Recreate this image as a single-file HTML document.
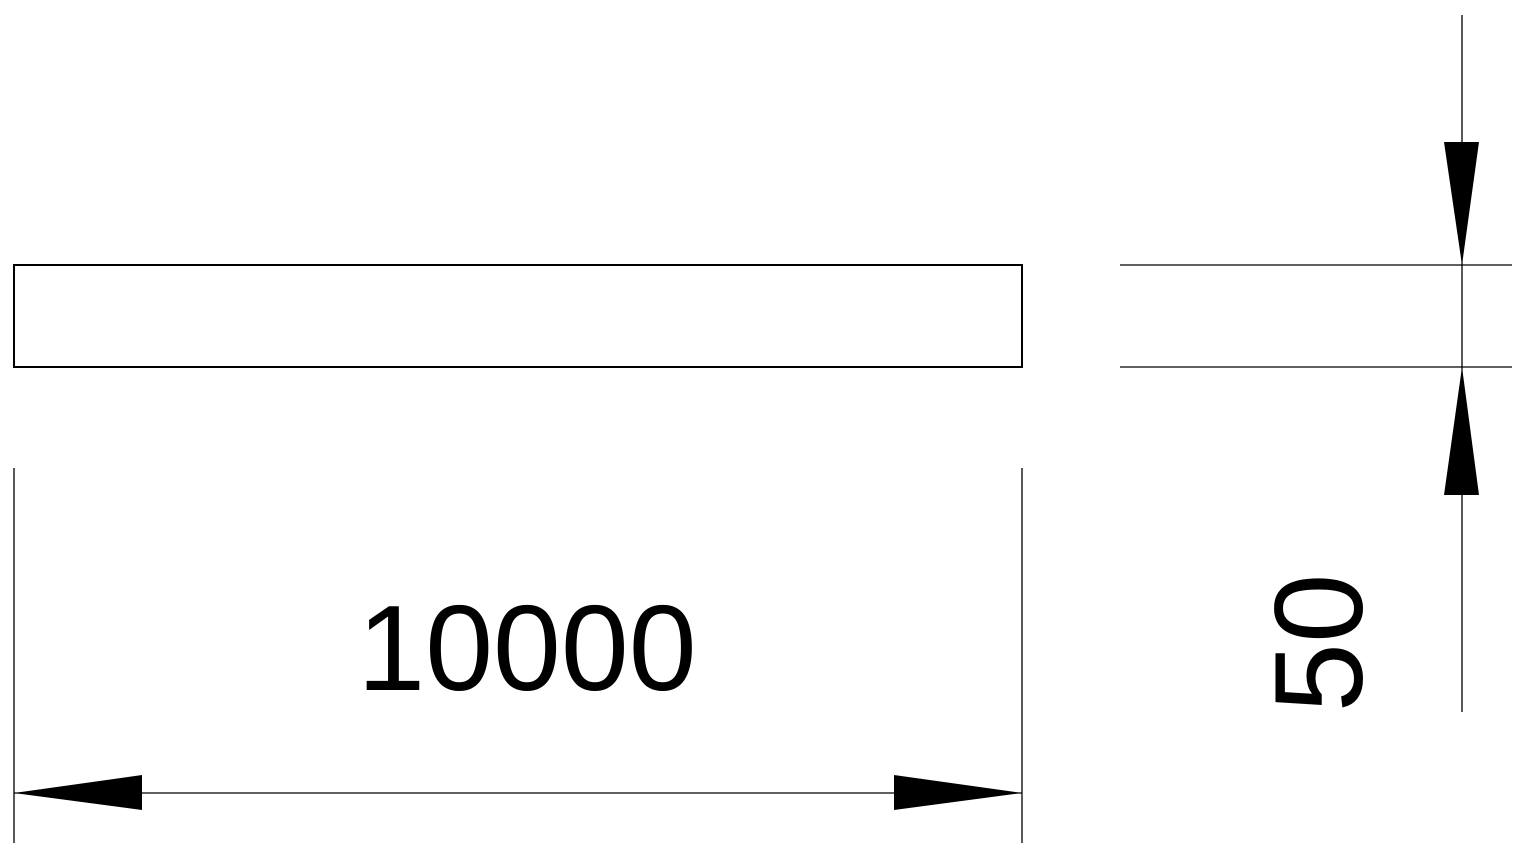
<!DOCTYPE html>
<html><head><meta charset="utf-8"><style>html,body{margin:0;padding:0;background:#fff;}</style></head>
<body>
<svg width="1525" height="852" viewBox="0 0 1525 852" xmlns="http://www.w3.org/2000/svg">
<rect x="14" y="265" width="1008" height="102" fill="none" stroke="#000" stroke-width="2"/>
<line x1="14" y1="468" x2="14" y2="843" stroke="#000" stroke-width="1.3"/>
<line x1="1022" y1="468" x2="1022" y2="843" stroke="#000" stroke-width="1.3"/>
<line x1="14" y1="793" x2="1022" y2="793" stroke="#000" stroke-width="1.3"/>
<polygon points="14,793 142,775 142,810" fill="#000"/>
<polygon points="1022,793 894,775 894,810" fill="#000"/>
<text x="527" y="690" font-family="Liberation Sans, sans-serif" font-size="122" text-anchor="middle">10000</text>
<line x1="1120" y1="265" x2="1512" y2="265" stroke="#000" stroke-width="1.3"/>
<line x1="1120" y1="367" x2="1512" y2="367" stroke="#000" stroke-width="1.3"/>
<line x1="1462" y1="15" x2="1462" y2="712" stroke="#000" stroke-width="1.3"/>
<polygon points="1462,265 1444,142 1479,142" fill="#000"/>
<polygon points="1462,367 1444,495 1479,495" fill="#000"/>
<text x="0" y="0" transform="translate(1362,643) rotate(-90)" font-family="Liberation Sans, sans-serif" font-size="125" text-anchor="middle">50</text>
</svg>
</body></html>
